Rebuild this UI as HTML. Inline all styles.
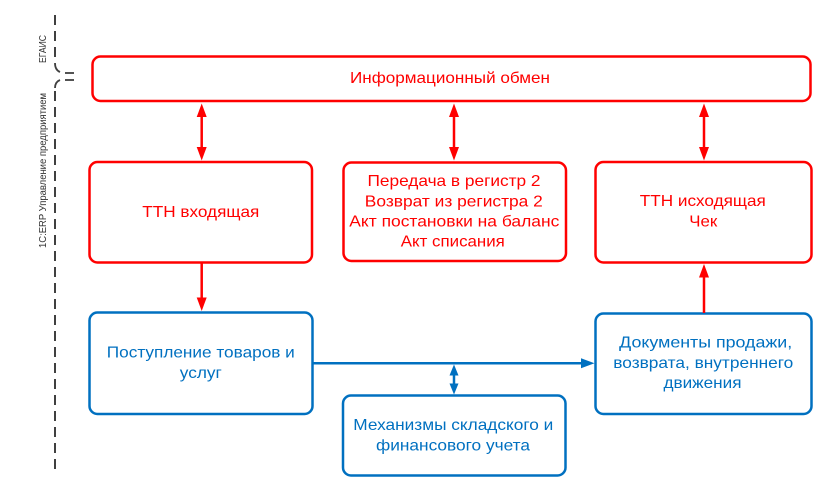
<!DOCTYPE html>
<html>
<head>
<meta charset="utf-8">
<style>
  html, body { margin: 0; padding: 0; background: #ffffff; }
  body { width: 829px; height: 492px; overflow: hidden; }
  svg { display: block; }
  text { font-family: "Liberation Sans", "Noto Sans CJK SC", sans-serif; }
</style>
</head>
<body>
<svg width="829" height="492" viewBox="0 0 829 492" xmlns="http://www.w3.org/2000/svg">
  <!-- dashed separator -->
  <line x1="55" y1="15" x2="55" y2="57" stroke="#404040" stroke-width="2" stroke-dasharray="10 6"/>
  <path d="M55,63 Q55,70 60,72" fill="none" stroke="#404040" stroke-width="1.8"/>
  <path d="M60,80 Q55,82 55,88" fill="none" stroke="#404040" stroke-width="1.8"/>
  <line x1="65" y1="73" x2="74" y2="73" stroke="#404040" stroke-width="1.8"/>
  <line x1="65" y1="80" x2="74" y2="80" stroke="#404040" stroke-width="1.8"/>
  <line x1="55" y1="91" x2="55" y2="474" stroke="#404040" stroke-width="2" stroke-dasharray="10 6"/>

  <!-- rotated labels -->
  <text transform="translate(46,49) rotate(-90)" x="0" y="0" font-size="10.5" fill="#333" text-anchor="middle" textLength="28" lengthAdjust="spacingAndGlyphs">ЕГАИС</text>
  <text transform="translate(46,170.5) rotate(-90)" x="0" y="0" font-size="10.5" fill="#333" text-anchor="middle" textLength="155" lengthAdjust="spacingAndGlyphs">1С:ERP Управление предприятием</text>

  <!-- red boxes -->
  <g fill="#fff" stroke="#ff0000" stroke-width="2.5">
    <rect x="92.5" y="56.5" width="718" height="44.5" rx="8"/>
    <rect x="89.5" y="162" width="222.5" height="100.5" rx="8"/>
    <rect x="343.5" y="162.5" width="222.5" height="98.5" rx="8"/>
    <rect x="595.5" y="162" width="216" height="100.5" rx="8"/>
  </g>
  <!-- blue boxes -->
  <g fill="#fff" stroke="#0070c0" stroke-width="2.5">
    <rect x="89.5" y="312.5" width="223" height="101.5" rx="8"/>
    <rect x="343" y="395.5" width="222.5" height="80" rx="8"/>
    <rect x="595.5" y="313.5" width="216" height="100.5" rx="8"/>
  </g>

  <!-- red connectors -->
  <g stroke="#ff0000" stroke-width="2.5">
    <line x1="201.7" y1="114" x2="201.7" y2="150"/>
    <line x1="454" y1="114" x2="454" y2="150"/>
    <line x1="704" y1="114" x2="704" y2="150"/>
    <line x1="201.7" y1="263" x2="201.7" y2="300"/>
    <line x1="704" y1="276" x2="704" y2="313"/>
  </g>
  <g fill="#ff0000">
    <polygon points="201.7,103.5 196.7,117 206.7,117"/>
    <polygon points="201.7,160.5 196.7,147 206.7,147"/>
    <polygon points="454,103.5 449,117 459,117"/>
    <polygon points="454,160.5 449,147 459,147"/>
    <polygon points="704,103.5 699,117 709,117"/>
    <polygon points="704,160.5 699,147 709,147"/>
    <polygon points="201.7,311 196.7,297.5 206.7,297.5"/>
    <polygon points="704,264 699,277.5 709,277.5"/>
  </g>

  <!-- blue connectors -->
  <g stroke="#0070c0" stroke-width="2.5">
    <line x1="312" y1="363.3" x2="584" y2="363.3"/>
    <line x1="454" y1="372" x2="454" y2="387"/>
  </g>
  <g fill="#0070c0">
    <polygon points="594.5,363.3 581,358.3 581,368.3"/>
    <polygon points="454,364.5 449.5,375.5 458.5,375.5"/>
    <polygon points="454,394.5 449.5,383.5 458.5,383.5"/>
  </g>

  <!-- red texts -->
  <g fill="#ff0000" font-size="16" text-anchor="middle">
    <text x="450" y="83" textLength="200" lengthAdjust="spacingAndGlyphs">Информационный обмен</text>
    <text x="200.8" y="217" textLength="117" lengthAdjust="spacingAndGlyphs">ТТН входящая</text>
    <text x="454" y="186" textLength="173" lengthAdjust="spacingAndGlyphs">Передача в регистр 2</text>
    <text x="453.8" y="206.5" textLength="178" lengthAdjust="spacingAndGlyphs">Возврат из регистра 2</text>
    <text x="454.3" y="226.5" textLength="210" lengthAdjust="spacingAndGlyphs">Акт постановки на баланс</text>
    <text x="452.8" y="246.5" textLength="104" lengthAdjust="spacingAndGlyphs">Акт списания</text>
    <text x="702.8" y="206" textLength="126" lengthAdjust="spacingAndGlyphs">ТТН исходящая</text>
    <text x="703.3" y="226.5" textLength="28" lengthAdjust="spacingAndGlyphs">Чек</text>
  </g>

  <!-- blue texts -->
  <g fill="#0070c0" font-size="16" text-anchor="middle">
    <text x="200.8" y="357.5" textLength="188" lengthAdjust="spacingAndGlyphs">Поступление товаров и</text>
    <text x="200.8" y="378" textLength="42" lengthAdjust="spacingAndGlyphs">услуг</text>
    <text x="453.3" y="430" textLength="200" lengthAdjust="spacingAndGlyphs">Механизмы складского и</text>
    <text x="453" y="450.5" textLength="154" lengthAdjust="spacingAndGlyphs">финансового учета</text>
    <text x="705.7" y="347.5" textLength="173" lengthAdjust="spacingAndGlyphs">Документы продажи,</text>
    <text x="703.3" y="368" textLength="180" lengthAdjust="spacingAndGlyphs">возврата, внутреннего</text>
    <text x="702.5" y="388" textLength="78" lengthAdjust="spacingAndGlyphs">движения</text>
  </g>
</svg>
</body>
</html>
